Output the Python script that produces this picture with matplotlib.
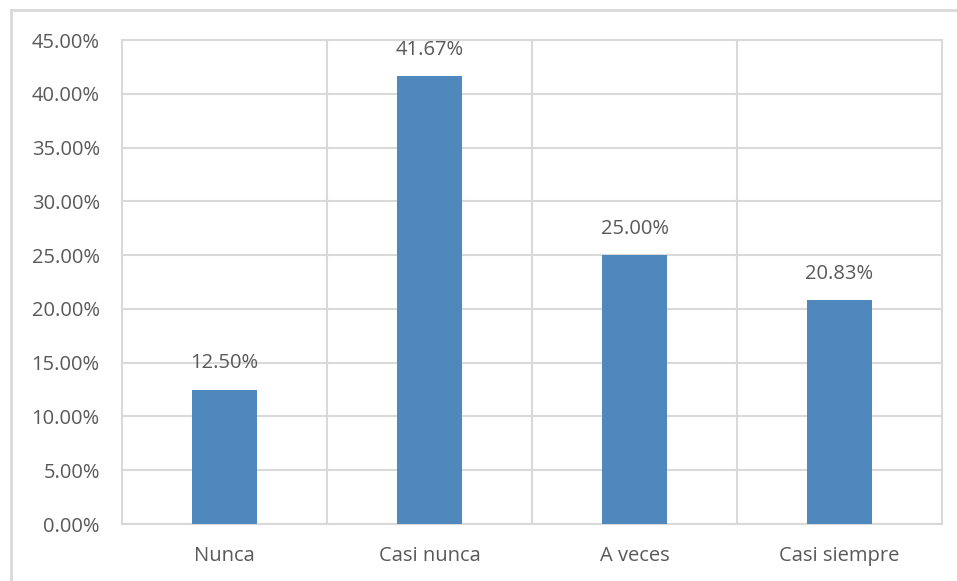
import matplotlib
matplotlib.use("Agg")
import matplotlib.pyplot as plt
from matplotlib.lines import Line2D
from matplotlib.ticker import FuncFormatter, FixedLocator

categories = ["Nunca", "Casi nunca", "A veces", "Casi siempre"]
values = [12.50, 41.67, 25.00, 20.83]
yticks = [0, 5, 10, 15, 20, 25, 30, 35, 40, 45]

plt.rcParams['font.family'] = ['Open Sans', 'DejaVu Sans']
text_color = "#595959"
grid_color = "#D9D9D9"
bar_color = "#4F88BC"
fs = 14.5

fig = plt.figure(figsize=(9.57, 5.81), dpi=100)
ax = fig.add_axes([122/957, 1-524/581, (942-122)/957, (524-40)/581])

x = list(range(len(categories)))
ax.bar(x, values, width=0.32, color=bar_color, zorder=3)
for xi, v in zip(x, values):
    ax.text(xi, v + 1.5, f"{v:.2f}%", ha="center", va="bottom", fontsize=fs, color=text_color)

ax.set_xlim(-0.5, 3.5)
ax.set_ylim(0, 45)
ax.set_yticks(yticks)
ax.yaxis.set_major_formatter(FuncFormatter(lambda v, p: f"{v:.2f}%"))
ax.set_xticks(x)
ax.set_xticklabels(categories)
ax.xaxis.set_minor_locator(FixedLocator([0.5, 1.5, 2.5]))
ax.tick_params(axis="both", which="both", length=0, labelsize=fs, colors=text_color)
ax.tick_params(axis="x", pad=16)
ax.tick_params(axis="y", pad=16)
ax.grid(axis="y", which="major", color=grid_color, linewidth=1.5, zorder=0)
ax.grid(axis="x", which="minor", color=grid_color, linewidth=1.5, zorder=0)
for s in ax.spines.values():
    s.set_color(grid_color)
    s.set_linewidth(1.5)

fig.add_artist(Line2D([11/957, 1], [1-10/581, 1-10/581], color=grid_color, linewidth=2))
fig.add_artist(Line2D([11/957, 11/957], [0, 1-10/581], color=grid_color, linewidth=2))

fig.savefig("out.png", dpi=100)
